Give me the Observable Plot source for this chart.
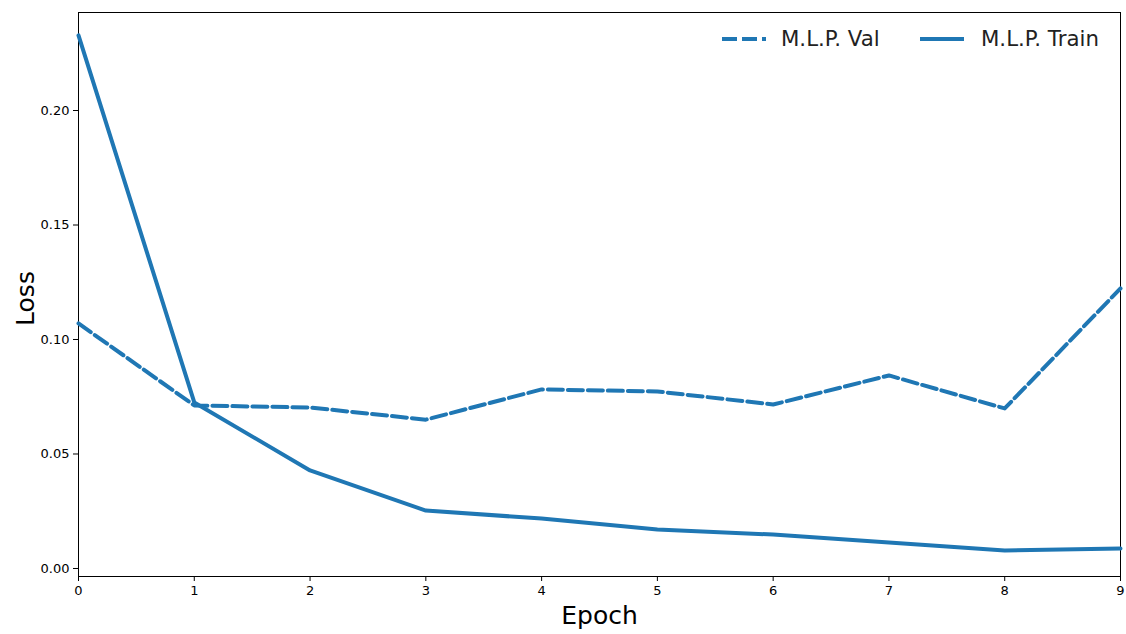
<!DOCTYPE html>
<html><head><meta charset="utf-8">
<script src="https://cdn.jsdelivr.net/npm/d3@7"></script>
<script src="https://cdn.jsdelivr.net/npm/@observablehq/plot@0.6"></script>
<style>
body{margin:0;background:#fff;font-family:"DejaVu Sans",sans-serif;}
#wrap{position:relative;width:1126px;height:634px;}
.lg-line{position:absolute;}
.lg-text{position:absolute;font-size:21.3px;color:#222;line-height:21px;white-space:nowrap;}
</style></head><body>
<div id="wrap"></div>
<script>
const epochs = [0,1,2,3,4,5,6,7,8,9];
const trainLoss = [0.2328,0.0725,0.0428,0.0253,0.0218,0.0170,0.0148,0.0114,0.0079,0.0087];
const valLoss = [0.1070,0.0712,0.0703,0.0650,0.0782,0.0773,0.0716,0.0843,0.0699,0.1223];
const seriesNames = ["M.L.P. Val","M.L.P. Train"];
const yTicks = [0,0.05,0.10,0.15,0.20];

const color = "#1f77b4";
const rows = [];
epochs.forEach((e,i)=>{rows.push({epoch:e,loss:valLoss[i],series:seriesNames[0]});});
epochs.forEach((e,i)=>{rows.push({epoch:e,loss:trainLoss[i],series:seriesNames[1]});});

const chart = Plot.plot({
  width:1126, height:634,
  marginLeft:78, marginRight:6, marginTop:12, marginBottom:58,
  style:{fontFamily:"DejaVu Sans, sans-serif", fontSize:"13px", color:"#000", background:"#fff"},
  x:{domain:[0,9], label:null},
  y:{domain:[-0.0035,0.2428], label:null},
  marks:[
    Plot.frame({stroke:"#000", strokeWidth:1}),
    Plot.axisX({ticks:epochs, tickFormat:d=>String(d), tickSize:5, tickPadding:4, label:null, fontSize:13}),
    Plot.axisY({ticks:yTicks, tickFormat:d=>d.toFixed(2), tickSize:5, tickPadding:4, label:null, fontSize:13}),
    Plot.line(rows.filter(d=>d.series===seriesNames[0]), {x:"epoch", y:"loss", stroke:color, strokeWidth:4, strokeDasharray:"15,5"}),
    Plot.line(rows.filter(d=>d.series===seriesNames[1]), {x:"epoch", y:"loss", stroke:color, strokeWidth:4}),
    Plot.text(["Epoch"], {frameAnchor:"bottom", dy:47, fontSize:25, fill:"#000", lineAnchor:"bottom"}),
    Plot.text(["Loss"], {frameAnchor:"left", dx:-45, dy:4, rotate:-90, textAnchor:"middle", lineAnchor:"bottom", fontSize:25, fill:"#000"})
  ]
});
const wrap = document.getElementById("wrap");
wrap.appendChild(chart);

// legend overlay
const legendItems = [
  {name:seriesNames[0], dash:"15,5", lineLeft:722, textLeft:781},
  {name:seriesNames[1], dash:null, lineLeft:920, textLeft:981}
];
legendItems.forEach(it=>{
  const l = document.createElement("div");
  l.className="lg-line";
  l.style.left = it.lineLeft+"px"; l.style.top = "33px";
  l.innerHTML = `<svg width="44" height="12" style="display:block"><line x1="0" y1="6" x2="44" y2="6" stroke="${color}" stroke-width="4" ${it.dash?`stroke-dasharray="${it.dash}"`:''}/></svg>`;
  wrap.appendChild(l);
  const t = document.createElement("div");
  t.className="lg-text";
  t.style.left = it.textLeft+"px"; t.style.top = "28px";
  t.textContent = it.name;
  wrap.appendChild(t);
});
</script>
</body></html>
